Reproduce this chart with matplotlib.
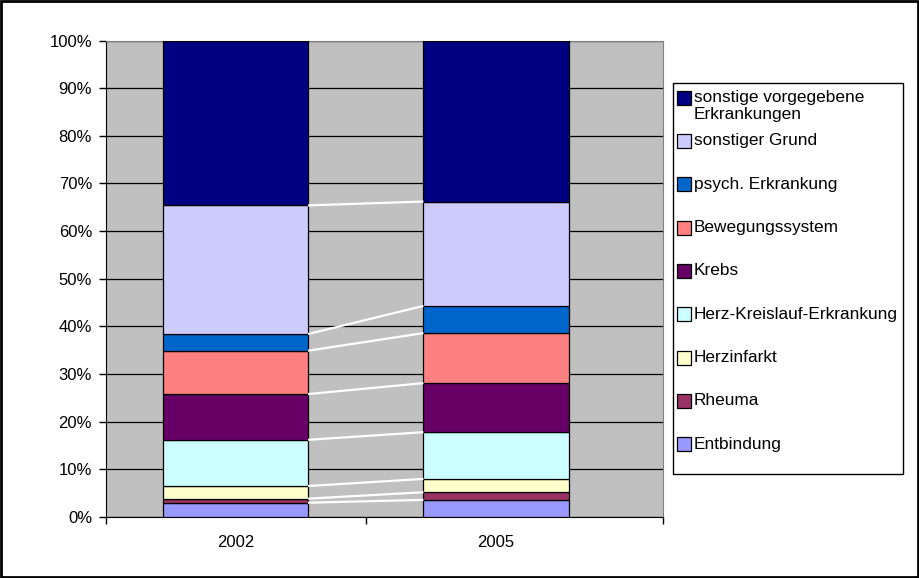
import numpy as np
import matplotlib
matplotlib.use("Agg")
import matplotlib.pyplot as plt
from matplotlib.patches import Rectangle

plt.rcParams["font.family"] = ["Liberation Sans", "DejaVu Sans"]

years = ["2002", "2005"]
categories = [
    "Entbindung",
    "Rheuma",
    "Herzinfarkt",
    "Herz-Kreislauf-Erkrankung",
    "Krebs",
    "Bewegungssystem",
    "psych. Erkrankung",
    "sonstiger Grund",
    "sonstige vorgegebene\nErkrankungen",
]
share_2002 = [3.0, 0.85, 2.65, 9.7, 9.6, 9.1, 3.5, 27.0, 34.6]
share_2005 = [3.6, 1.6, 2.8, 9.8, 10.3, 10.5, 5.7, 21.9, 33.8]
colors = ["#9999FF", "#993366", "#FFFFCC", "#CCFFFF", "#660066",
          "#FF8080", "#0066CC", "#CCCCFF", "#000080"]

W, H = 920, 578
fig = plt.figure(figsize=(W / 100, H / 100), dpi=100)
ax = fig.add_axes([106 / W, 61 / H, 557 / W, 476.5 / H])
ax.set_facecolor("#C0C0C0")

vals = np.array([share_2002, share_2005])  # (years, categories)
x = np.arange(len(years))
width = 0.557
bottom = np.zeros(len(years))
for i, cat in enumerate(categories):
    ax.bar(x, vals[:, i], width, bottom=bottom, color=colors[i],
           edgecolor="black", linewidth=0.9, zorder=3)
    bottom = bottom + vals[:, i]

# series lines between the stacks
cum = np.cumsum(vals, axis=1)
for i in range(len(categories) - 1):
    ax.plot([x[0] + width / 2, x[1] - width / 2], [cum[0, i], cum[1, i]],
            color="white", linewidth=1.6, zorder=4, solid_capstyle="butt")

ax.set_ylim(0, 100)
ax.set_xlim(-0.497, 1.641)
ax.set_yticks(np.arange(0, 101, 10))
ax.set_yticklabels([f"{v}%" for v in range(0, 101, 10)])
ax.yaxis.grid(True, color="black", linewidth=0.9, zorder=1)
ax.set_axisbelow(True)

ax.set_xticks([-0.497, 0.5, 1.641])
ax.set_xticklabels([])
ax.set_xticks(x, minor=True)
ax.set_xticklabels(years, minor=True)
ax.tick_params(axis="x", which="minor", length=0, pad=13, labelsize=12)
ax.tick_params(axis="x", which="major", length=5, direction="out", width=1)
ax.tick_params(axis="y", length=5, direction="out", width=1, pad=5, labelsize=12)

ax.spines["left"].set_color("black")
ax.spines["bottom"].set_color("black")
ax.spines["top"].set_color("#808080")
ax.spines["right"].set_color("#808080")

# legend box, drawn by hand (Excel spacing is not uniform for the two-line entry)
def fx(px):
    return px / W


def fy(py):
    return (H - py) / H


fig.patches.append(Rectangle((fx(673), fy(474)), fx(903) - fx(673), fy(82.7) - fy(474),
                             transform=fig.transFigure, facecolor="white",
                             edgecolor="black", linewidth=1.0, zorder=5))
rows = [106] + [141 + k * 43.3 for k in range(len(categories) - 1)]
for row, cat, col in zip(rows, categories[::-1], colors[::-1]):
    mark_y = row - 8 if "\n" in cat else row
    fig.patches.append(Rectangle((fx(677.5), fy(mark_y + 7)), 14 / W, 14 / H,
                                 transform=fig.transFigure, facecolor=col,
                                 edgecolor="black", linewidth=0.9, zorder=6))
    fig.text(fx(694), fy(row), cat, fontsize=12.4, va="center", ha="left",
             linespacing=1.15, zorder=6)

fig.patches.append(Rectangle((0.001, 0.001), 0.997, 0.997, transform=fig.transFigure,
                             fill=False, edgecolor="black", linewidth=2))

fig.savefig("out.png", dpi=100)
